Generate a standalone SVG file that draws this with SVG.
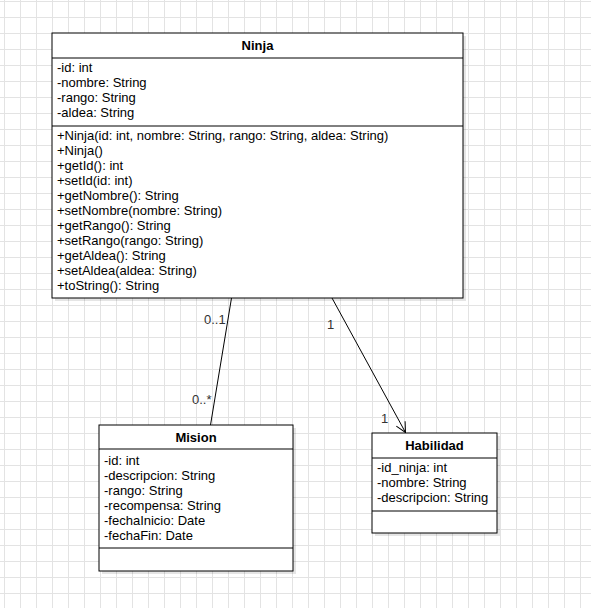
<svg xmlns="http://www.w3.org/2000/svg" width="591" height="608" viewBox="0 0 591 608">
<defs>
<pattern id="grid" x="4" y="1" width="16" height="16" patternUnits="userSpaceOnUse">
<path d="M0 0.5H16M0.5 0V16" fill="none" stroke="#e3e3e3" stroke-width="1"/>
</pattern>
<marker id="open" viewBox="0 0 12 12" refX="11" refY="6" markerWidth="12" markerHeight="12" orient="auto" markerUnits="userSpaceOnUse">
<path d="M1 1L11 6L1 11" fill="none" stroke="#000" stroke-width="1"/>
</marker>
</defs>
<style>
text{font-family:"Liberation Sans",Arial,sans-serif;font-size:13px;fill:#000}
.h{font-weight:bold;text-anchor:middle}
.box{fill:#fff;stroke:#000;stroke-width:1}
.sh{fill:#000;opacity:0.1}
.sep{stroke:#000;stroke-width:1}
.edge{fill:none;stroke:#000;stroke-width:1}
.lbl{fill:#333}
</style>
<rect width="591" height="608" fill="#fff"/>
<rect width="591" height="608" fill="url(#grid)"/>

<g id="edges">
<path class="edge" d="M231.5 298L210.5 425"/>
<path class="edge" d="M332 298L405.5 432.5" marker-end="url(#open)"/>
<text class="lbl" x="204" y="324">0..1</text>
<text class="lbl" x="192" y="404">0..*</text>
<text class="lbl" x="327" y="329">1</text>
<text class="lbl" x="381" y="423">1</text>
</g>

<g id="Ninja">
<rect class="sh" x="55" y="36" width="411" height="265"/>
<rect class="box" x="52" y="33" width="411" height="265"/>
<line class="sep" x1="52" y1="58" x2="463" y2="58"/>
<line class="sep" x1="52" y1="126" x2="463" y2="126"/>
<text class="h" x="257.5" y="50">Ninja</text>
<text x="57" y="72">-id: int</text>
<text x="57" y="87">-nombre: String</text>
<text x="57" y="102">-rango: String</text>
<text x="57" y="117">-aldea: String</text>
<text x="57" y="140">+Ninja(id: int, nombre: String, rango: String, aldea: String)</text>
<text x="57" y="155">+Ninja()</text>
<text x="57" y="170">+getId(): int</text>
<text x="57" y="185">+setId(id: int)</text>
<text x="57" y="200">+getNombre(): String</text>
<text x="57" y="215">+setNombre(nombre: String)</text>
<text x="57" y="230">+getRango(): String</text>
<text x="57" y="245">+setRango(rango: String)</text>
<text x="57" y="260">+getAldea(): String</text>
<text x="57" y="275">+setAldea(aldea: String)</text>
<text x="57" y="290">+toString(): String</text>
</g>

<g id="Mision">
<rect class="sh" x="102" y="428" width="194" height="146"/>
<rect class="box" x="99" y="425" width="194" height="146"/>
<line class="sep" x1="99" y1="449" x2="293" y2="449"/>
<line class="sep" x1="99" y1="548" x2="293" y2="548"/>
<text class="h" x="196" y="442">Mision</text>
<text x="104" y="465">-id: int</text>
<text x="104" y="480">-descripcion: String</text>
<text x="104" y="495">-rango: String</text>
<text x="104" y="510">-recompensa: String</text>
<text x="104" y="525">-fechaInicio: Date</text>
<text x="104" y="540">-fechaFin: Date</text>
</g>

<g id="Habilidad">
<rect class="sh" x="375" y="436" width="125" height="100"/>
<rect class="box" x="372" y="433" width="125" height="100"/>
<line class="sep" x1="372" y1="458" x2="497" y2="458"/>
<line class="sep" x1="372" y1="511" x2="497" y2="511"/>
<text class="h" x="434.5" y="450">Habilidad</text>
<text x="377" y="472">-id_ninja: int</text>
<text x="377" y="487">-nombre: String</text>
<text x="377" y="502">-descripcion: String</text>
</g>
</svg>
